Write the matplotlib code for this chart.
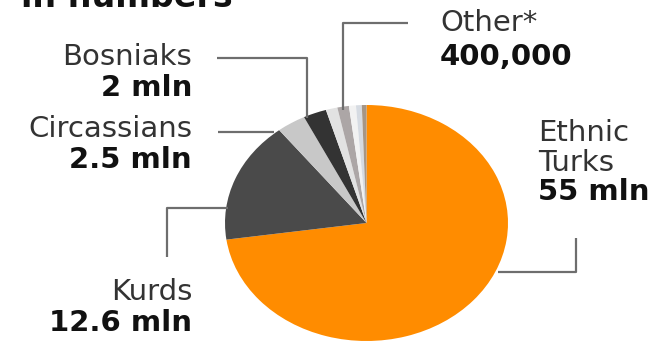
import matplotlib
matplotlib.use("Agg")
import matplotlib.pyplot as plt

# Ethnic groups of Turkey (millions), clockwise from the top
groups = ["Ethnic Turks", "Kurds", "Circassians", "Bosniaks",
          "Group 5", "Group 6", "Group 7", "Group 8", "Other"]
values = [55, 12.6, 2.5, 2, 1.0, 1.0, 0.6, 0.5, 0.4]
colors = ["#ff8c00", "#4a4a4a", "#c8c8c8", "#333333",
          "#e2e2e2", "#aca6a6", "#f2f2f2", "#d6dbe2", "#a69686"]

W, H = 667, 344
fig = plt.figure(figsize=(W / 100, H / 100), dpi=100)
fig.patch.set_facecolor("white")

# pie drawn as a slightly wide ellipse, like the reference
pie_ax = fig.add_axes([225 / W, 3 / H, 283 / W, 236 / H])
pie_ax.pie(values, colors=colors, startangle=90, counterclock=False,
           wedgeprops=dict(linewidth=0))
pie_ax.set_xlim(-1, 1)
pie_ax.set_ylim(-1, 1)
pie_ax.set_aspect("auto")
pie_ax.axis("off")

# overlay in pixel coordinates for text and leader lines
ov = fig.add_axes([0, 0, 1, 1], facecolor="none")
ov.set_xlim(0, W)
ov.set_ylim(H, 0)
ov.axis("off")

line_kw = dict(color="#6e6e6e", lw=1.6, solid_capstyle="butt")
reg = dict(fontsize=21, color="#333333", family="DejaVu Sans")
bold = dict(fontsize=21, color="#111111", family="DejaVu Sans", fontweight="bold")

# title (cut off at the top in the reference)
ov.text(21, 7, "in numbers", fontsize=24, fontweight="bold", color="#111111",
        ha="left", va="baseline")

# Bosniaks
ov.text(192, 57, "Bosniaks", ha="right", va="center", **reg)
ov.text(192, 88, "2 mln", ha="right", va="center", **bold)
ov.plot([217, 307, 307], [58, 58, 118], **line_kw)

# Circassians
ov.text(192, 129, "Circassians", ha="right", va="center", **reg)
ov.text(192, 160, "2.5 mln", ha="right", va="center", **bold)
ov.plot([218, 274], [132, 132], **line_kw)

# Kurds
ov.text(192, 292, "Kurds", ha="right", va="center", **reg)
ov.text(192, 323, "12.6 mln", ha="right", va="center", **bold)
ov.plot([167, 167, 228], [257, 208, 208], **line_kw)

# Other
ov.text(440, 23, "Other*", ha="left", va="center", **reg)
ov.text(440, 57, "400,000", ha="left", va="center", **bold)
ov.plot([408, 343, 343], [23, 23, 110], **line_kw)

# Ethnic Turks
ov.text(538, 133, "Ethnic", ha="left", va="center", **reg)
ov.text(538, 163, "Turks", ha="left", va="center", **reg)
ov.text(538, 192, "55 mln", ha="left", va="center", **bold)
ov.plot([576, 576, 498], [238, 272, 272], **line_kw)

fig.savefig("out.png", dpi=100)
